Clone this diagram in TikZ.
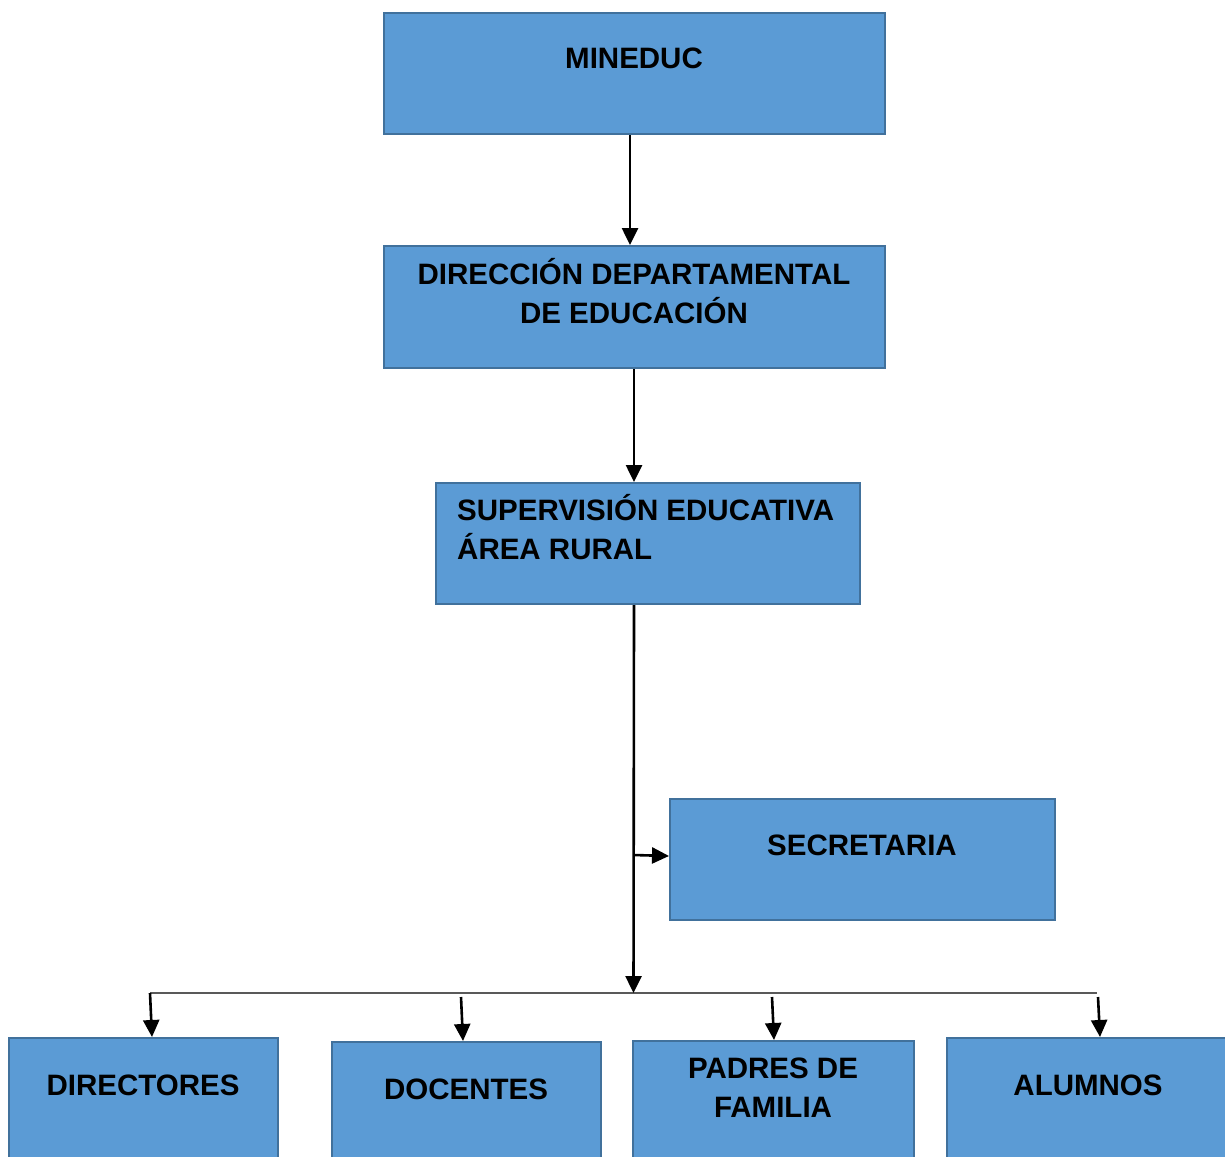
\documentclass[tikz,border=0pt]{standalone}
\usepackage{fontspec}
\setmainfont{Liberation Sans}
\usetikzlibrary{arrows.meta}
\definecolor{boxc}{HTML}{5B9BD5}
\definecolor{bordc}{HTML}{41719C}
\definecolor{linec}{HTML}{595959}
\begin{document}
\begin{tikzpicture}[x=1pt,y=-1pt,
  box/.style={draw=bordc,fill=boxc,line width=2pt,inner sep=0pt,anchor=north west},
  txt/.style={font=\fontsize{29.5}{39}\selectfont\bfseries,inner sep=0pt,anchor=base,align=center},
  arr/.style={line width=2.6pt,-{Triangle[length=17pt,width=16pt]}},
  hline/.style={draw=linec,line width=2pt}]
\clip (0,0) rectangle (1225,1156);
\fill[white] (0,0) rectangle (1225,1156);
% boxes
\node[box,minimum width=501pt,minimum height=121pt] (min) at (383,12) {};
\node[box,minimum width=501pt,minimum height=122pt] (dir) at (383,245) {};
\node[box,minimum width=424pt,minimum height=121pt] (sup) at (435,482) {};
\node[box,minimum width=385pt,minimum height=121pt] (sec) at (669,798) {};
\node[box,minimum width=269pt,minimum height=160pt] (dtr) at (8,1037) {};
\node[box,minimum width=269pt,minimum height=160pt] (doc) at (331,1041) {};
\node[box,minimum width=281pt,minimum height=160pt] (pad) at (632,1040) {};
\node[box,minimum width=290pt,minimum height=160pt] (alu) at (946,1037) {};
% texts
\node[txt] (tmin) at (634,68) {MINEDUC};
\node[txt] (tdir) at (634,323) {DIRECCIÓN DEPARTAMENTAL\\DE EDUCACIÓN};
\node[txt,anchor=base west,align=left] (tsup) at (457,559) {SUPERVISIÓN EDUCATIVA\\ÁREA RURAL};
\node[txt] (tsec) at (862,855) {SECRETARIA};
\node[txt] (tdtr) at (143,1095) {DIRECTORES};
\node[txt] (tdoc) at (466,1099) {DOCENTES};
\node[txt] (tpad) at (773,1117) {PADRES DE\\FAMILIA};
\node[txt] (talu) at (1088,1095) {ALUMNOS};
% connectors
\draw[arr] ([xshift=-4.5pt]min.south) -- ([xshift=-4.5pt]dir.north);
\draw[arr] ([xshift=-0.5pt]dir.south) -- ([xshift=-14pt]sup.north);
\coordinate (hj) at (633.5,993);
\coordinate (hl) at (150,993);
\coordinate (hr) at (1097,993);
\coordinate (br) at (633.5,855);
\draw[hline] (hl) -- (hr);
\draw[arr] ([xshift=-14pt]sup.south) -- (hj);
\draw[arr] (br) -- ([yshift=3.5pt]sec.west);
\coordinate (a1) at (150,993);
\coordinate (a2) at (461,997);
\coordinate (a3) at (772,997);
\coordinate (a4) at (1098,997);
\draw[arr] (a1) -- ([xshift=144pt]dtr.north west);
\draw[arr] (a2) -- ([xshift=132pt]doc.north west);
\draw[arr] (a3) -- ([xshift=142pt]pad.north west);
\draw[arr] (a4) -- ([xshift=154pt]alu.north west);
\end{tikzpicture}
\end{document}
